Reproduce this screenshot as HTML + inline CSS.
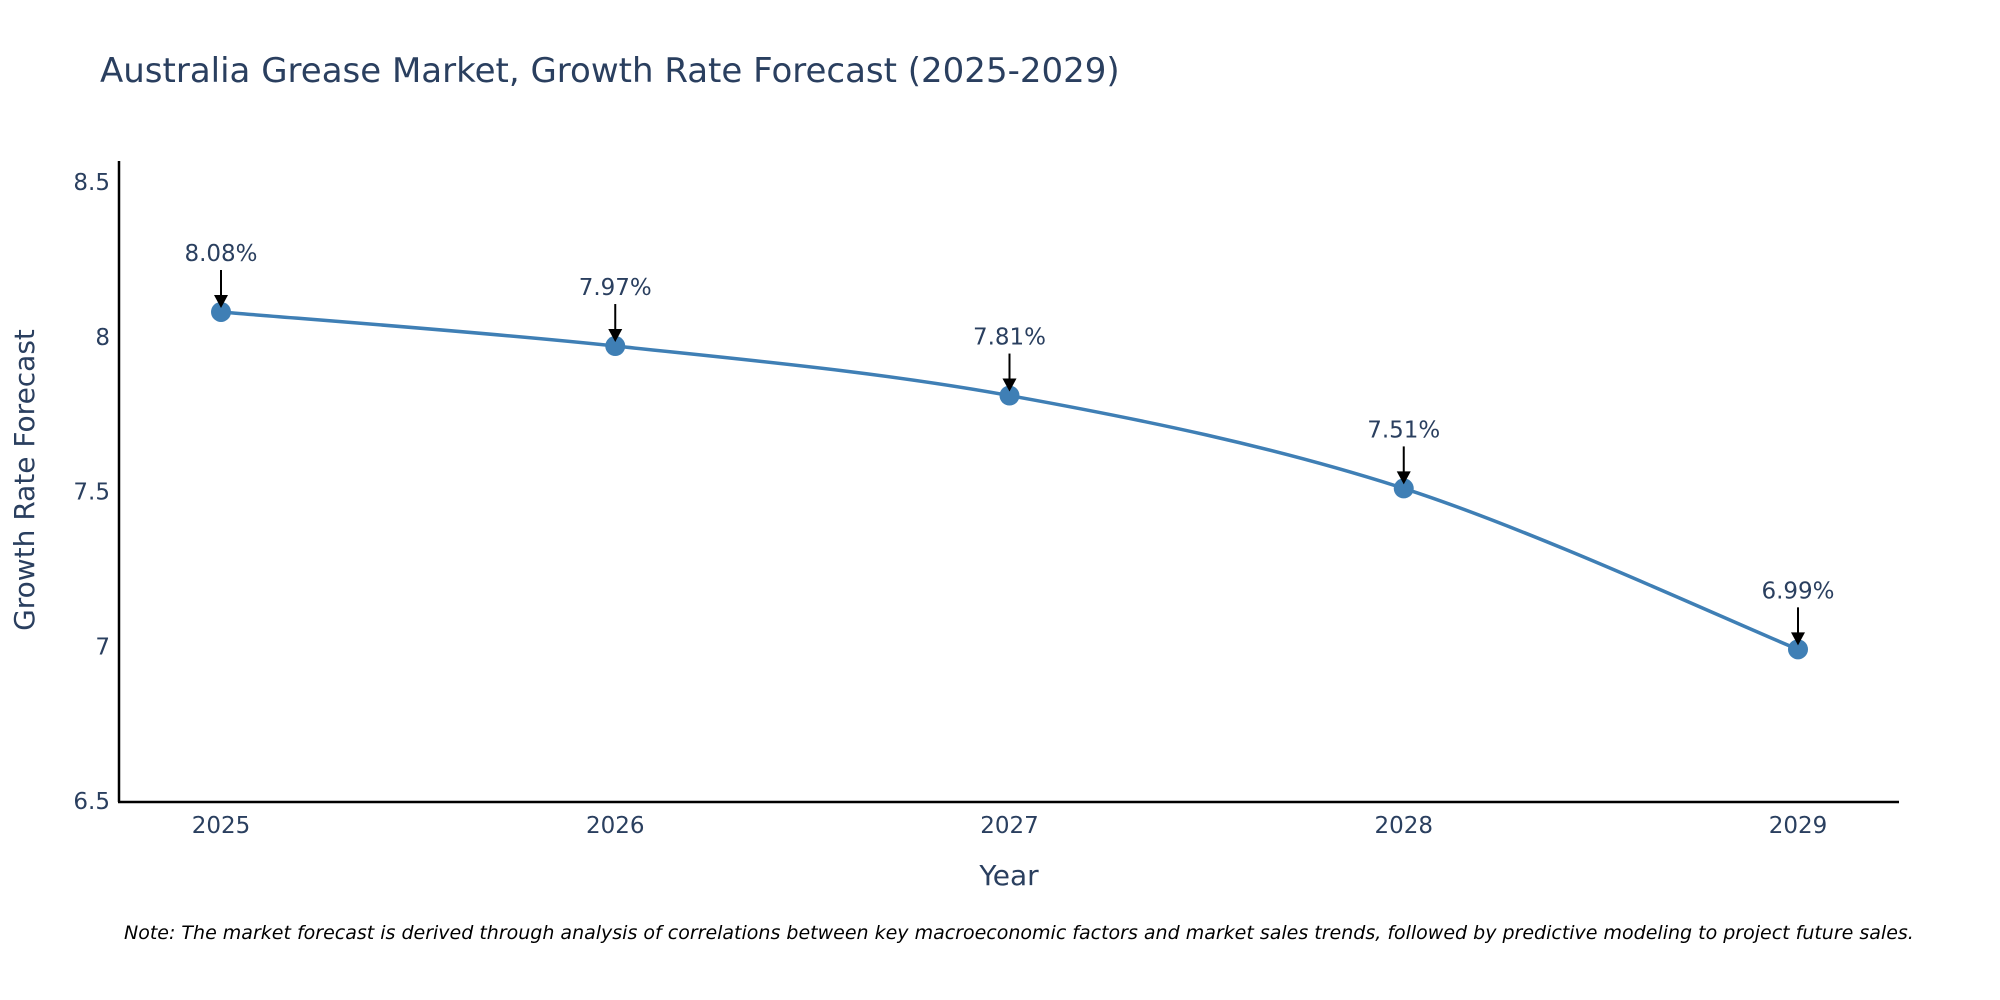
<!DOCTYPE html>
<html><head><meta charset="utf-8"><style>
body{margin:0;background:#fff;}
svg{display:block;font-family:"DejaVu Sans","Liberation Sans",sans-serif;}
</style></head><body>
<svg id="chart" width="2000" height="1000" viewBox="0 0 2000 1000">
<text x="100" y="82" font-size="34" fill="#2a3f5f">Australia Grease Market, Growth Rate Forecast (2025-2029)</text>
<g id="yticks"></g>
<g id="xticks"></g>
<path id="line" fill="none" stroke="#3f7fb5" stroke-width="3.5"/>
<g id="marks"></g>
<g id="annots"></g>
<line x1="119" y1="161" x2="119" y2="802" stroke="#000" stroke-width="2.5"/>
<line x1="118" y1="802" x2="1899" y2="802" stroke="#000" stroke-width="2.5"/>
<text transform="translate(34,480) rotate(-90)" text-anchor="middle" font-size="28" fill="#2a3f5f">Growth Rate Forecast</text>
<text x="1009" y="885" text-anchor="middle" font-size="28" fill="#2a3f5f">Year</text>
<text x="124" y="939" font-size="19" font-style="italic" fill="#000">Note: The market forecast is derived through analysis of correlations between key macroeconomic factors and market sales trends, followed by predictive modeling to project future sales.</text>
</svg>
<script>
const years = ["2025","2026","2027","2028","2029"];
const values = [8.08, 7.97, 7.81, 7.51, 6.99];
const labels = ["8.08%","7.97%","7.81%","7.51%","6.99%"];
const yTicks = [6.5, 7, 7.5, 8, 8.5];
const yTickLabels = ["6.5","7","7.5","8","8.5"];

const NS = "http://www.w3.org/2000/svg";
function xPos(i){ return 221 + i * (1798 - 221) / (years.length - 1); }
function yPos(v){ return 801 - (v - 6.5) * (801 - 182) / 2; }
function mk(tag, attrs, parent){ const e = document.createElementNS(NS, tag); for (const k in attrs) e.setAttribute(k, attrs[k]); parent.appendChild(e); return e; }

const yt = document.getElementById('yticks');
yTicks.forEach((v, i) => {
  const t = mk('text', {x: 110, y: yPos(v) + 8, 'text-anchor': 'end', 'font-size': 23, fill: '#2a3f5f'}, yt);
  
  
  t.textContent = yTickLabels[i];
});
const xt = document.getElementById('xticks');
years.forEach((y, i) => {
  const t = mk('text', {x: xPos(i), y: 833, 'text-anchor': 'middle', 'font-size': 23, fill: '#2a3f5f'}, xt);
  
  
  t.textContent = y;
});

const pts = values.map((v, i) => [xPos(i), yPos(v)]);
let d = `M${pts[0][0]},${pts[0][1]}`;
for (let i = 0; i < pts.length - 1; i++) {
  const p0 = pts[Math.max(0, i - 1)], p1 = pts[i], p2 = pts[i + 1], p3 = pts[Math.min(pts.length - 1, i + 2)];
  const c1 = [p1[0] + (p2[0] - p0[0]) / 6, p1[1] + (p2[1] - p0[1]) / 6];
  const c2 = [p2[0] - (p3[0] - p1[0]) / 6, p2[1] - (p3[1] - p1[1]) / 6];
  d += ` C${c1[0]},${c1[1]} ${c2[0]},${c2[1]} ${p2[0]},${p2[1]}`;
}
document.getElementById('line').setAttribute('d', d);

const mg = document.getElementById('marks');
const ag = document.getElementById('annots');
pts.forEach((p, i) => {
  const c = mk('circle', {cx: p[0], cy: p[1], r: 10, fill: '#3f7fb5'}, mg);
  
  
  const ln = mk('line', {x1: p[0], y1: p[1] - 42, x2: p[0], y2: p[1] - 14, stroke: '#000', 'stroke-width': 2}, ag);
  
  
  const hd = mk('polygon', {points: `${p[0]-7},${p[1]-17} ${p[0]+7},${p[1]-17} ${p[0]},${p[1]-4}`, fill: '#000'}, ag);
  
  
  const t = mk('text', {x: p[0], y: p[1] - 51, 'text-anchor': 'middle', 'font-size': 23, fill: '#2a3f5f'}, ag);
  
  
  t.textContent = labels[i];
});
</script>
</body></html>
